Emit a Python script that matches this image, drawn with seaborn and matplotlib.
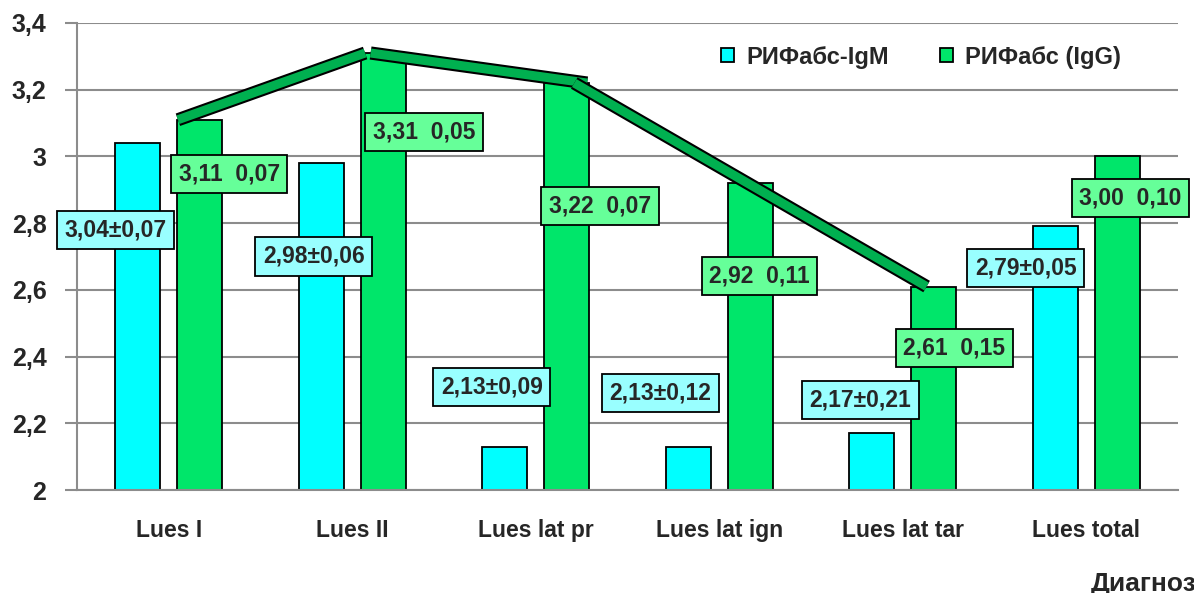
import numpy as np
import pandas as pd
import matplotlib
matplotlib.use('Agg')
import matplotlib.pyplot as plt
import matplotlib.patheffects as pe
import seaborn as sns

# data
categories = ['Lues I', 'Lues II', 'Lues lat pr', 'Lues lat ign', 'Lues lat tar', 'Lues total']
series = ['РИФабс-IgM', 'РИФабс (IgG)']
igm_mean = [3.04, 2.98, 2.13, 2.13, 2.17, 2.79]
igm_err = [0.07, 0.06, 0.09, 0.12, 0.21, 0.05]
igg_mean = [3.11, 3.31, 3.22, 2.92, 2.61, 3.00]
igg_err = [0.07, 0.05, 0.07, 0.11, 0.15, 0.10]
trend_idx = [0, 1, 2, 4]   # green bars joined by the hand-drawn trend line
y_ticks = [2, 2.2, 2.4, 2.6, 2.8, 3, 3.2, 3.4]
y_ticklabels = ['2', '2,2', '2,4', '2,6', '2,8', '3', '3,2', '3,4']

# label box placement (category offset, y)
igm_lab_pos = [(-0.29, 2.78), (-0.21, 2.70), (-0.24, 2.31), (-0.32, 2.29), (-0.23, 2.27), (-0.33, 2.665)]
igg_lab_pos = [(0.33, 2.947), (0.39, 3.073), (0.35, 2.851), (0.22, 2.642), (0.28, 2.426), (0.24, 2.875)]
# where each hand-drawn stroke starts / ends relative to the category centre
seg_start_dx = [0.05, 0.10, 0.21]
seg_end_dx = [0.07, 0.28, 0.13]

df = pd.DataFrame({
    'cat': categories * 2,
    'val': igm_mean + igg_mean,
    'series': [series[0]] * len(categories) + [series[1]] * len(categories),
})

sns.set_style('white')
plt.rcParams['font.family'] = ['Liberation Sans', 'DejaVu Sans']
plt.rcParams['font.weight'] = 'bold'

fig = plt.figure(figsize=(11.94, 5.93), dpi=100)
ax = fig.add_axes([77 / 1194, 103 / 593, 1101 / 1194, 467 / 593])

sns.barplot(data=df, x='cat', y='val', hue='series', order=categories, hue_order=series,
            palette=['#00FFFF', '#00E66A'], width=0.676, gap=0.27,
            edgecolor='black', linewidth=1.3, saturation=1, ax=ax)

ax.set_ylim(2, 3.4)
ax.set_xlim(-0.5, len(categories) - 0.5)
ax.set_axisbelow(True)
ax.set_yticks(y_ticks)
ax.set_yticklabels(y_ticklabels, fontsize=18, fontweight='bold')
ax.yaxis.grid(True, color='#8c8c8c', linewidth=1.5)
ax.set_xticks(range(len(categories)))
ax.set_xticklabels(categories, fontsize=16.5, fontweight='bold')
ax.set_xticks(np.arange(-0.5, len(categories)), minor=True)
ax.tick_params(axis='x', which='major', length=0, pad=21)
ax.tick_params(axis='x', which='minor', length=8, width=1.5, color='#8c8c8c')
ax.tick_params(axis='y', length=9, width=1.5, color='#8c8c8c', pad=13, left=True)
ax.set_xlabel('')
ax.set_ylabel('')
for s in ['top', 'right']:
    ax.spines[s].set_visible(False)
for s in ['left', 'bottom']:
    ax.spines[s].set_color('#8c8c8c')
    ax.spines[s].set_linewidth(1.5)

# trend line over the green bars, drawn as separate strokes
for k, (a, b) in enumerate(zip(trend_idx[:-1], trend_idx[1:])):
    ax.plot([a + seg_start_dx[k], b + seg_end_dx[k]], [igg_mean[a], igg_mean[b]],
            color='#00B050', lw=6.5, solid_capstyle='butt', zorder=4,
            path_effects=[pe.Stroke(linewidth=9.5, foreground='black'), pe.Normal()])

# value labels
for i in range(len(categories)):
    dx, y = igm_lab_pos[i]
    ax.text(i + dx, y, f'{igm_mean[i]:.2f}±{igm_err[i]:.2f}'.replace('.', ','),
            ha='center', va='center', fontsize=16.5, fontweight='bold', zorder=6, clip_on=False,
            bbox=dict(boxstyle='square,pad=0.33', fc='#99FFFF', ec='black', lw=1.3))
    dx, y = igg_lab_pos[i]
    ax.text(i + dx, y, f'{igg_mean[i]:.2f}  {igg_err[i]:.2f}'.replace('.', ','),
            ha='center', va='center', fontsize=16.5, fontweight='bold', zorder=6, clip_on=False,
            bbox=dict(boxstyle='square,pad=0.33', fc='#66FF99', ec='black', lw=1.3))

handles, labels = ax.get_legend_handles_labels()
ax.legend(handles, labels, loc='center left', bbox_to_anchor=(0.585, 0.927), frameon=False,
          ncol=2, handlelength=0.55, handleheight=0.55, handletextpad=0.5,
          columnspacing=2.2, borderpad=0, borderaxespad=0,
          prop={'weight': 'bold', 'size': 17})

fig.text(1091 / 1194, 2 / 593, 'Диагноз', ha='left', va='baseline', fontsize=19, fontweight='bold')

fig.savefig('out.png', dpi=100)
